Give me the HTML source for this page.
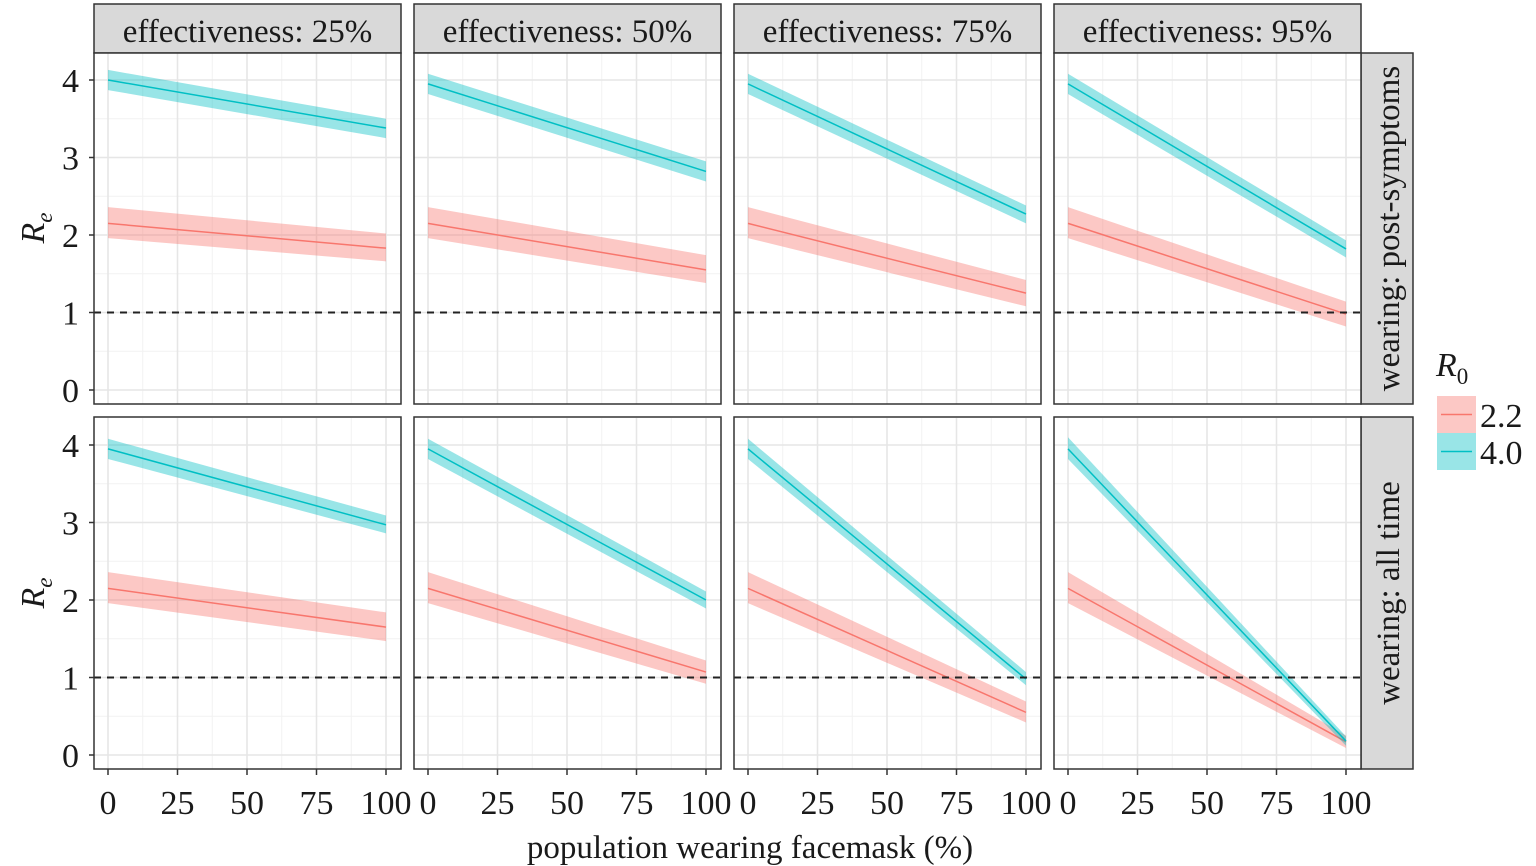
<!DOCTYPE html>
<html><head><meta charset="utf-8"><style>
html,body{margin:0;padding:0;background:#fff;}
svg, svg text{font-family:"Liberation Serif","DejaVu Serif",serif;}
</style></head><body>
<svg width="1536" height="866" viewBox="0 0 1536 866" xmlns="http://www.w3.org/2000/svg" xmlns:xlink="http://www.w3.org/1999/xlink" font-family="Liberation Serif, DejaVu Serif, serif" style="display:block">
<defs>
<g id="grid">
<rect x="0" y="0" width="307" height="351" fill="#fff"/>
<g stroke="#f2f2f2" stroke-width="1">
<line x1="0" x2="307" y1="298.25" y2="298.25"/><line x1="0" x2="307" y1="220.75" y2="220.75"/><line x1="0" x2="307" y1="143.25" y2="143.25"/><line x1="0" x2="307" y1="65.75" y2="65.75"/>
<line y1="0" y2="351" x1="48.75" x2="48.75"/><line y1="0" y2="351" x1="118.25" x2="118.25"/><line y1="0" y2="351" x1="187.75" x2="187.75"/><line y1="0" y2="351" x1="257.25" x2="257.25"/>
</g>
<g stroke="#e6e6e6" stroke-width="1.6">
<line x1="0" x2="307" y1="337" y2="337"/><line x1="0" x2="307" y1="259.5" y2="259.5"/><line x1="0" x2="307" y1="182" y2="182"/><line x1="0" x2="307" y1="104.5" y2="104.5"/><line x1="0" x2="307" y1="27" y2="27"/>
<line y1="0" y2="351" x1="14" x2="14"/><line y1="0" y2="351" x1="83.5" x2="83.5"/><line y1="0" y2="351" x1="153" x2="153"/><line y1="0" y2="351" x1="222.5" x2="222.5"/><line y1="0" y2="351" x1="292" x2="292"/>
</g>
</g>
</defs>

<g stroke="#333" stroke-width="1.5" fill="#d9d9d9">
<rect x="94" y="4" width="307" height="49"/><rect x="414" y="4" width="307" height="49"/><rect x="734" y="4" width="307" height="49"/><rect x="1054" y="4" width="307" height="49"/>
<rect x="1361" y="53" width="52" height="351"/><rect x="1361" y="417" width="52" height="352"/>
</g>
<g font-size="33" text-anchor="middle" fill="#1a1a1a" font-family="Liberation Serif, serif">
<text x="247.5" y="42">effectiveness: 25%</text><text x="567.5" y="42">effectiveness: 50%</text><text x="887.5" y="42">effectiveness: 75%</text><text x="1207.5" y="42">effectiveness: 95%</text>
<text transform="translate(1399,228.5) rotate(-90)">wearing: post-symptoms</text>
<text transform="translate(1399,593) rotate(-90)">wearing: all time</text>
</g>

<use xlink:href="#grid" x="94" y="53"/><use xlink:href="#grid" x="414" y="53"/><use xlink:href="#grid" x="734" y="53"/><use xlink:href="#grid" x="1054" y="53"/>
<use xlink:href="#grid" x="94" y="418"/><use xlink:href="#grid" x="414" y="418"/><use xlink:href="#grid" x="734" y="418"/><use xlink:href="#grid" x="1054" y="418"/>

<g transform="translate(108,390) scale(2.78,-77.5)">
<polygon points="0,2.36 100,2.02 100,1.66 0,1.96" fill="rgba(248,118,109,0.4)"/>
<polyline points="0,2.15 100,1.83" fill="none" stroke="#F8766D" stroke-width="1.5" vector-effect="non-scaling-stroke"/>
<polygon points="0,4.13 100,3.5 100,3.25 0,3.87" fill="rgba(0,191,196,0.4)"/>
<polyline points="0,4.0 100,3.38" fill="none" stroke="#00BFC4" stroke-width="1.5" vector-effect="non-scaling-stroke"/>
</g>
<g transform="translate(428,390) scale(2.78,-77.5)">
<polygon points="0,2.36 100,1.74 100,1.38 0,1.96" fill="rgba(248,118,109,0.4)"/>
<polyline points="0,2.15 100,1.55" fill="none" stroke="#F8766D" stroke-width="1.5" vector-effect="non-scaling-stroke"/>
<polygon points="0,4.08 100,2.95 100,2.69 0,3.82" fill="rgba(0,191,196,0.4)"/>
<polyline points="0,3.95 100,2.82" fill="none" stroke="#00BFC4" stroke-width="1.5" vector-effect="non-scaling-stroke"/>
</g>
<g transform="translate(748,390) scale(2.78,-77.5)">
<polygon points="0,2.36 100,1.42 100,1.08 0,1.96" fill="rgba(248,118,109,0.4)"/>
<polyline points="0,2.15 100,1.25" fill="none" stroke="#F8766D" stroke-width="1.5" vector-effect="non-scaling-stroke"/>
<polygon points="0,4.08 100,2.38 100,2.15 0,3.82" fill="rgba(0,191,196,0.4)"/>
<polyline points="0,3.95 100,2.27" fill="none" stroke="#00BFC4" stroke-width="1.5" vector-effect="non-scaling-stroke"/>
</g>
<g transform="translate(1068,390) scale(2.78,-77.5)">
<polygon points="0,2.36 100,1.14 100,0.82 0,1.96" fill="rgba(248,118,109,0.4)"/>
<polyline points="0,2.15 100,0.98" fill="none" stroke="#F8766D" stroke-width="1.5" vector-effect="non-scaling-stroke"/>
<polygon points="0,4.08 100,1.93 100,1.71 0,3.82" fill="rgba(0,191,196,0.4)"/>
<polyline points="0,3.95 100,1.82" fill="none" stroke="#00BFC4" stroke-width="1.5" vector-effect="non-scaling-stroke"/>
</g>
<g transform="translate(108,755) scale(2.78,-77.5)">
<polygon points="0,2.36 100,1.84 100,1.47 0,1.96" fill="rgba(248,118,109,0.4)"/>
<polyline points="0,2.15 100,1.65" fill="none" stroke="#F8766D" stroke-width="1.5" vector-effect="non-scaling-stroke"/>
<polygon points="0,4.08 100,3.09 100,2.86 0,3.82" fill="rgba(0,191,196,0.4)"/>
<polyline points="0,3.95 100,2.97" fill="none" stroke="#00BFC4" stroke-width="1.5" vector-effect="non-scaling-stroke"/>
</g>
<g transform="translate(428,755) scale(2.78,-77.5)">
<polygon points="0,2.36 100,1.22 100,0.92 0,1.96" fill="rgba(248,118,109,0.4)"/>
<polyline points="0,2.15 100,1.07" fill="none" stroke="#F8766D" stroke-width="1.5" vector-effect="non-scaling-stroke"/>
<polygon points="0,4.08 100,2.11 100,1.89 0,3.82" fill="rgba(0,191,196,0.4)"/>
<polyline points="0,3.95 100,2.0" fill="none" stroke="#00BFC4" stroke-width="1.5" vector-effect="non-scaling-stroke"/>
</g>
<g transform="translate(748,755) scale(2.78,-77.5)">
<polygon points="0,2.36 100,0.69 100,0.42 0,1.96" fill="rgba(248,118,109,0.4)"/>
<polyline points="0,2.15 100,0.55" fill="none" stroke="#F8766D" stroke-width="1.5" vector-effect="non-scaling-stroke"/>
<polygon points="0,4.08 100,1.07 100,0.9 0,3.82" fill="rgba(0,191,196,0.4)"/>
<polyline points="0,3.95 100,0.98" fill="none" stroke="#00BFC4" stroke-width="1.5" vector-effect="non-scaling-stroke"/>
</g>
<g transform="translate(1068,755) scale(2.78,-77.5)">
<polygon points="0,2.36 100,0.25 100,0.09 0,1.96" fill="rgba(248,118,109,0.4)"/>
<polyline points="0,2.15 100,0.17" fill="none" stroke="#F8766D" stroke-width="1.5" vector-effect="non-scaling-stroke"/>
<polygon points="0,4.1 100,0.24 100,0.12 0,3.82" fill="rgba(0,191,196,0.4)"/>
<polyline points="0,3.95 100,0.18" fill="none" stroke="#00BFC4" stroke-width="1.5" vector-effect="non-scaling-stroke"/>
</g>

<g stroke="#222" stroke-width="2" stroke-dasharray="7,6">
<line x1="94" x2="401" y1="312.5" y2="312.5"/><line x1="414" x2="721" y1="312.5" y2="312.5"/><line x1="734" x2="1041" y1="312.5" y2="312.5"/><line x1="1054" x2="1361" y1="312.5" y2="312.5"/>
<line x1="94" x2="401" y1="677.5" y2="677.5"/><line x1="414" x2="721" y1="677.5" y2="677.5"/><line x1="734" x2="1041" y1="677.5" y2="677.5"/><line x1="1054" x2="1361" y1="677.5" y2="677.5"/>
</g>

<g stroke="#333" stroke-width="1.5" fill="none">
<rect x="94" y="53" width="307" height="351"/><rect x="414" y="53" width="307" height="351"/><rect x="734" y="53" width="307" height="351"/><rect x="1054" y="53" width="307" height="351"/>
<rect x="94" y="417" width="307" height="352"/><rect x="414" y="417" width="307" height="352"/><rect x="734" y="417" width="307" height="352"/><rect x="1054" y="417" width="307" height="352"/>
</g>

<g stroke="#333" stroke-width="1.5">
<line x1="89" x2="94" y1="390" y2="390"/><line x1="89" x2="94" y1="312.5" y2="312.5"/><line x1="89" x2="94" y1="235" y2="235"/><line x1="89" x2="94" y1="157.5" y2="157.5"/><line x1="89" x2="94" y1="80" y2="80"/>
<line x1="89" x2="94" y1="755" y2="755"/><line x1="89" x2="94" y1="677.5" y2="677.5"/><line x1="89" x2="94" y1="600" y2="600"/><line x1="89" x2="94" y1="522.5" y2="522.5"/><line x1="89" x2="94" y1="445" y2="445"/>
</g>
<g font-size="34" text-anchor="end" fill="#1a1a1a" font-family="Liberation Serif, serif">
<text x="79" y="402">0</text><text x="79" y="324.5">1</text><text x="79" y="247">2</text><text x="79" y="169.5">3</text><text x="79" y="92">4</text>
<text x="79" y="767">0</text><text x="79" y="689.5">1</text><text x="79" y="612">2</text><text x="79" y="534.5">3</text><text x="79" y="457">4</text>
</g>
<g font-size="34" fill="#1a1a1a" font-style="italic" text-anchor="middle" font-family="Liberation Serif, serif">
<text transform="translate(44,228) rotate(-90)">R<tspan font-size="23" dy="8">e</tspan></text>
<text transform="translate(44,593) rotate(-90)">R<tspan font-size="23" dy="8">e</tspan></text>
</g>

<g stroke="#333" stroke-width="1.5">
<line x1="108" x2="108" y1="769" y2="775"/><line x1="177.5" x2="177.5" y1="769" y2="775"/><line x1="247" x2="247" y1="769" y2="775"/><line x1="316.5" x2="316.5" y1="769" y2="775"/><line x1="386" x2="386" y1="769" y2="775"/>
<line x1="428" x2="428" y1="769" y2="775"/><line x1="497.5" x2="497.5" y1="769" y2="775"/><line x1="567" x2="567" y1="769" y2="775"/><line x1="636.5" x2="636.5" y1="769" y2="775"/><line x1="706" x2="706" y1="769" y2="775"/>
<line x1="748" x2="748" y1="769" y2="775"/><line x1="817.5" x2="817.5" y1="769" y2="775"/><line x1="887" x2="887" y1="769" y2="775"/><line x1="956.5" x2="956.5" y1="769" y2="775"/><line x1="1026" x2="1026" y1="769" y2="775"/>
<line x1="1068" x2="1068" y1="769" y2="775"/><line x1="1137.5" x2="1137.5" y1="769" y2="775"/><line x1="1207" x2="1207" y1="769" y2="775"/><line x1="1276.5" x2="1276.5" y1="769" y2="775"/><line x1="1346" x2="1346" y1="769" y2="775"/>
</g>
<g font-size="34" text-anchor="middle" fill="#1a1a1a" font-family="Liberation Serif, serif">
<text x="108" y="814">0</text><text x="177.5" y="814">25</text><text x="247" y="814">50</text><text x="316.5" y="814">75</text><text x="386" y="814">100</text>
<text x="428" y="814">0</text><text x="497.5" y="814">25</text><text x="567" y="814">50</text><text x="636.5" y="814">75</text><text x="706" y="814">100</text>
<text x="748" y="814">0</text><text x="817.5" y="814">25</text><text x="887" y="814">50</text><text x="956.5" y="814">75</text><text x="1026" y="814">100</text>
<text x="1068" y="814">0</text><text x="1137.5" y="814">25</text><text x="1207" y="814">50</text><text x="1276.5" y="814">75</text><text x="1346" y="814">100</text>
<text x="750" y="858" font-size="33">population wearing facemask (%)</text>
</g>

<g font-family="Liberation Serif, serif" fill="#1a1a1a">
<text x="1436" y="376" font-size="34" font-style="italic">R<tspan font-style="normal" font-size="23" dy="8">0</tspan></text>
<text x="1480" y="427" font-size="34">2.2</text><text x="1480" y="464" font-size="34">4.0</text>
</g>
<rect x="1437" y="396" width="39" height="37" fill="rgba(248,118,109,0.4)"/><line x1="1441" x2="1472" y1="414.5" y2="414.5" stroke="#F8766D" stroke-width="1.5"/>
<rect x="1437" y="433" width="39" height="37" fill="rgba(0,191,196,0.4)"/><line x1="1441" x2="1472" y1="451.5" y2="451.5" stroke="#00BFC4" stroke-width="1.5"/>
</svg>
</body></html>
